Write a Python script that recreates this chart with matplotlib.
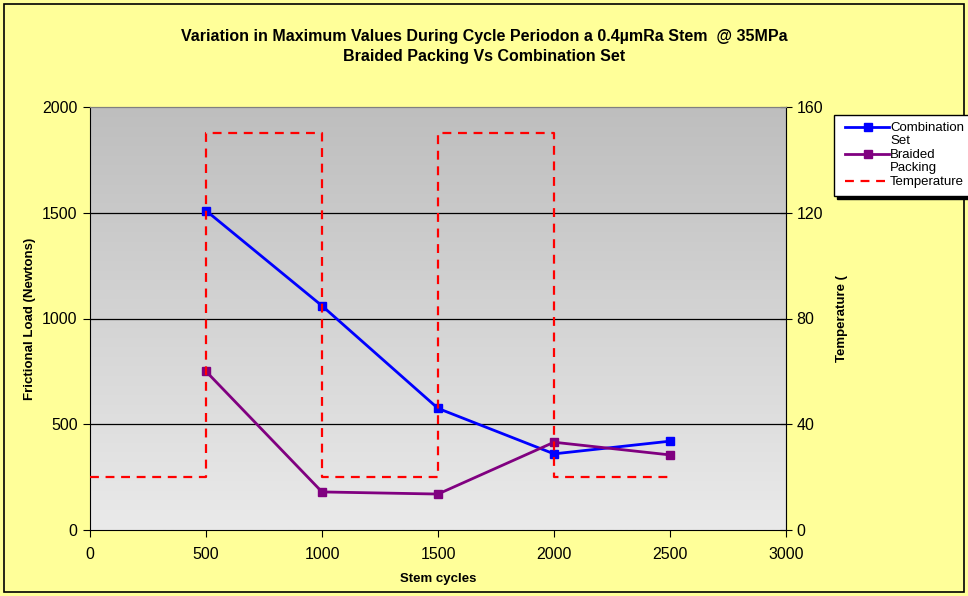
import matplotlib
matplotlib.use("Agg")
import matplotlib.pyplot as plt
import numpy as np
from matplotlib.patches import Rectangle
from matplotlib.lines import Line2D
from matplotlib.colors import LinearSegmentedColormap

plt.rcParams['font.family'] = ['Liberation Sans', 'DejaVu Sans']

cycles = [500, 1000, 1500, 2000, 2500]
combination = [1510, 1060, 575, 360, 420]
braided = [750, 180, 170, 415, 355]
temp_x = [0, 500, 500, 1000, 1000, 1500, 1500, 2000, 2000, 2500]
temp_y = [20, 20, 150, 150, 20, 20, 150, 150, 20, 20]

W, H = 968, 596
fig = plt.figure(figsize=(W / 100, H / 100), dpi=100)
fig.patch.set_facecolor('#FFFF99')

def fx(px):
    return px / W

def fy(py):
    return 1 - py / H

fig.patches.append(Rectangle((fx(4), fy(592)), fx(960), 588 / H, transform=fig.transFigure,
                             fill=False, edgecolor='black', linewidth=1.2))

ax = fig.add_axes([fx(90), fy(530), fx(786) - fx(90), fy(107) - fy(530)])
ax.set_xlim(0, 3000)
ax.set_ylim(0, 2000)

grad = np.linspace(0, 1, 256).reshape(-1, 1)
cmap = LinearSegmentedColormap.from_list('g', ['#EAEAEA', '#BEBEBE'])
ax.imshow(grad, extent=[0, 1, 0, 1], transform=ax.transAxes, cmap=cmap,
          aspect='auto', origin='lower', zorder=0)

ax.set_yticks([0, 500, 1000, 1500, 2000])
ax.set_xticks([0, 500, 1000, 1500, 2000, 2500, 3000])
for yv in [500, 1000, 1500]:
    ax.axhline(yv, color='black', linewidth=0.9, zorder=1)

ax.plot(cycles, combination, color='#0000FF', marker='s', markersize=6,
        linewidth=2, zorder=4)
ax.plot(cycles, braided, color='#800080', marker='s', markersize=6,
        linewidth=2, zorder=4)

ax2 = ax.twinx()
ax2.set_ylim(0, 160)
ax2.set_yticks([0, 40, 80, 120, 160])
ax2.plot(temp_x, temp_y, color='#FF0000', linestyle=(0, (4, 3)), linewidth=1.6, zorder=3)

for a in (ax, ax2):
    for s in a.spines.values():
        s.set_color('#808080')
ax.spines['left'].set_color('black')
ax.spines['bottom'].set_color('black')
ax2.spines['right'].set_color('black')
ax2.spines['left'].set_visible(False)
ax2.spines['bottom'].set_visible(False)

ax.tick_params(axis='y', labelsize=11.5, direction='out', length=5, pad=4, color='black')
ax.tick_params(axis='x', labelsize=11.5, direction='out', length=5, pad=7, color='black')
ax2.tick_params(axis='y', labelsize=11.5, direction='inout', length=9, pad=3, color='black')

ax.set_xlabel('Stem cycles', fontsize=9.5, fontweight='bold', labelpad=8)
ax.set_ylabel('Frictional Load (Newtons)', fontsize=9.5, fontweight='bold', labelpad=4)
ax2.set_ylabel('Temperature (', fontsize=9.5, fontweight='bold', labelpad=9.5)

fig.text(0.5, fy(36), 'Variation in Maximum Values During Cycle Periodon a 0.4µmRa Stem  @ 35MPa',
         ha='center', va='center', fontsize=11.5, fontweight='bold')
fig.text(0.5, fy(57), 'Braided Packing Vs Combination Set',
         ha='center', va='center', fontsize=11.5, fontweight='bold')

# legend (drawn manually to match the wrapped layout)
fig.patches.append(Rectangle((fx(837), fy(199)), fx(140), 81 / H, transform=fig.transFigure,
                             facecolor='black', edgecolor='black', zorder=5))
fig.patches.append(Rectangle((fx(834), fy(196)), fx(140), 81 / H, transform=fig.transFigure,
                             facecolor='white', edgecolor='black', linewidth=1, zorder=6))
entries = [
    (127, dict(color='#0000FF', marker='s', markersize=6, linewidth=2), ['Combination', 'Set'], [128, 141]),
    (154, dict(color='#800080', marker='s', markersize=6, linewidth=2), ['Braided', 'Packing'], [155, 168]),
    (181, dict(color='#FF0000', linestyle=(0, (4, 3)), linewidth=1.6), ['Temperature'], [182]),
]
for ypx, style, lines, ys in entries:
    ln = Line2D([fx(845), fx(868), fx(889)], [fy(ypx)] * 3, transform=fig.transFigure,
                markevery=[1], zorder=7, **style)
    fig.add_artist(ln)
    for txt, ty in zip(lines, ys):
        fig.text(fx(890), fy(ty), txt, ha='left', va='center',
                 fontsize=9.5, zorder=8)

fig.savefig('out.png', dpi=100, facecolor=fig.get_facecolor())
